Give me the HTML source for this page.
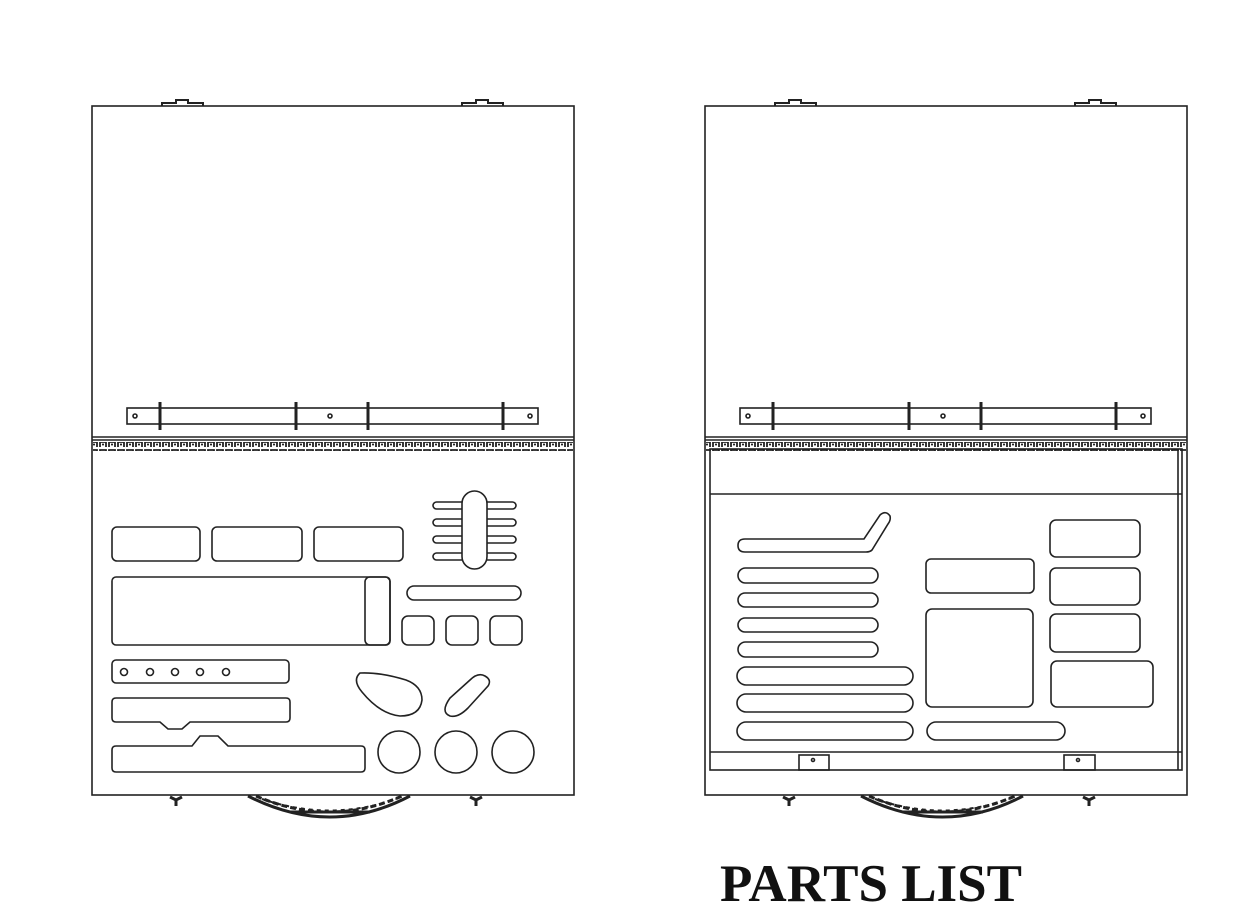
<!DOCTYPE html>
<html><head><style>
html,body{margin:0;padding:0;background:#fff;}
svg{display:block}
</style></head><body>
<svg width="1237" height="916" viewBox="0 0 1237 916" xmlns="http://www.w3.org/2000/svg">
<defs>
<pattern id="hp" x="0" y="0" width="9" height="8" patternUnits="userSpaceOnUse">
<path d="M1 7 V2 H7 V7 M3 4.5 H5" fill="none" stroke="#222" stroke-width="1.8"/>
</pattern>
<g id="shell" fill="none" stroke="#222" stroke-width="1.6">
<rect x="92" y="106" width="482" height="689" fill="#fff"/>
<path d="M162 106 V103 H176 V100 H188 V103 H203 V106" stroke-width="2"/>
<path d="M462 106 V103 H476 V100 H488 V103 H503 V106" stroke-width="2"/>
<rect x="127" y="408" width="411" height="16"/>
<line x1="160" y1="402" x2="160" y2="430" stroke-width="3"/>
<line x1="296" y1="402" x2="296" y2="430" stroke-width="3"/>
<line x1="368" y1="402" x2="368" y2="430" stroke-width="3"/>
<line x1="503" y1="402" x2="503" y2="430" stroke-width="3"/>
<circle cx="135" cy="416" r="2"/>
<circle cx="330" cy="416" r="2"/>
<circle cx="530" cy="416" r="2"/>
<line x1="92" y1="437" x2="574" y2="437"/>
<line x1="92" y1="440" x2="574" y2="440"/>
<rect x="93" y="442" width="480" height="9" fill="url(#hp)" stroke="none"/>
<path d="M170 797 L176 800 L182 797 M176 800 V806" stroke-width="3"/>
<path d="M470 797 L476 800 L482 797 M476 800 V806" stroke-width="3"/>
<path d="M248 796 Q330 838 410 796" stroke-width="3"/>
<path d="M256 796 Q330 828 402 796" stroke-width="3" stroke-dasharray="6 3"/>
<path d="M262 799 Q330 822 396 799" stroke-width="2" stroke-dasharray="4 4"/>
<path d="M290 812 H370" stroke-width="3"/>
</g>
</defs>

<use href="#shell"/>
<use href="#shell" transform="translate(613,0)"/>

<g fill="none" stroke="#222" stroke-width="1.6">
<rect x="112" y="527" width="88" height="34" rx="5"/>
<rect x="212" y="527" width="90" height="34" rx="5"/>
<rect x="314" y="527" width="89" height="34" rx="5"/>
<rect x="112" y="577" width="278" height="68" rx="4"/>
<rect x="365" y="577" width="25" height="68" rx="5"/>
<rect x="407" y="586" width="114" height="14" rx="7"/>
<rect x="402" y="616" width="32" height="29" rx="6"/>
<rect x="446" y="616" width="32" height="29" rx="6"/>
<rect x="490" y="616" width="32" height="29" rx="6"/>
<rect x="112" y="660" width="177" height="23" rx="4"/>
<circle cx="124" cy="672" r="3.5"/><circle cx="150" cy="672" r="3.5"/><circle cx="175" cy="672" r="3.5"/><circle cx="200" cy="672" r="3.5"/><circle cx="226" cy="672" r="3.5"/>
<path d="M116 698 H286 Q290 698 290 702 V718 Q290 722 286 722 H190 L182 729 H168 L160 722 H116 Q112 722 112 718 V702 Q112 698 116 698 Z"/>
<path d="M116 746 H192 L200 736 H218 L228 746 H361 Q365 746 365 750 V768 Q365 772 361 772 H116 Q112 772 112 768 V750 Q112 746 116 746 Z"/>
<rect x="433" y="502" width="83" height="7" rx="3.5"/>
<rect x="433" y="519" width="83" height="7" rx="3.5"/>
<rect x="433" y="536" width="83" height="7" rx="3.5"/>
<rect x="433" y="553" width="83" height="7" rx="3.5"/>
<rect x="462" y="491" width="25" height="78" rx="12.5" fill="#fff"/>
<path d="M360 673 Q352 680 362 692 Q380 714 400 716 Q420 716 422 700 Q422 686 406 680 Q380 672 360 673 Z"/>
<path d="M485 676 Q478 672 470 680 L450 698 Q440 712 450 716 Q458 718 468 708 L488 686 Q492 680 485 676 Z"/>
<circle cx="399" cy="752" r="21"/>
<circle cx="456" cy="752" r="21"/>
<circle cx="513" cy="752" r="21"/>
</g>

<g fill="none" stroke="#222" stroke-width="1.6">
<rect x="710" y="449" width="472" height="321"/>
<line x1="710" y1="494" x2="1182" y2="494"/>
<line x1="710" y1="752" x2="1182" y2="752"/>
<line x1="1178" y1="449" x2="1178" y2="770"/>
<rect x="799" y="755" width="30" height="15"/>
<rect x="1064" y="755" width="31" height="15"/>
<circle cx="813" cy="760" r="1.5"/><circle cx="1078" cy="760" r="1.5"/>
<path d="M745 539 H864 L880 515 Q886 510 890 516 Q891 520 888 524 L872 550 Q870 552 866 552 H745 Q738 552 738 545.5 Q738 539 745 539 Z"/>
<rect x="738" y="568" width="140" height="15" rx="7.5"/>
<rect x="738" y="593" width="140" height="14" rx="7"/>
<rect x="738" y="618" width="140" height="14" rx="7"/>
<rect x="738" y="642" width="140" height="15" rx="7.5"/>
<rect x="737" y="667" width="176" height="18" rx="9"/>
<rect x="737" y="694" width="176" height="18" rx="9"/>
<rect x="737" y="722" width="176" height="18" rx="9"/>
<rect x="926" y="559" width="108" height="34" rx="5"/>
<rect x="926" y="609" width="107" height="98" rx="6"/>
<rect x="927" y="722" width="138" height="18" rx="9"/>
<rect x="1050" y="520" width="90" height="37" rx="6"/>
<rect x="1050" y="568" width="90" height="37" rx="6"/>
<rect x="1050" y="614" width="90" height="38" rx="6"/>
<rect x="1051" y="661" width="102" height="46" rx="6"/>
</g>

<text x="871" y="901" text-anchor="middle" font-family="'Liberation Serif', serif" font-weight="bold" font-size="53" fill="#111">PARTS LIST</text>
</svg>
</body></html>
